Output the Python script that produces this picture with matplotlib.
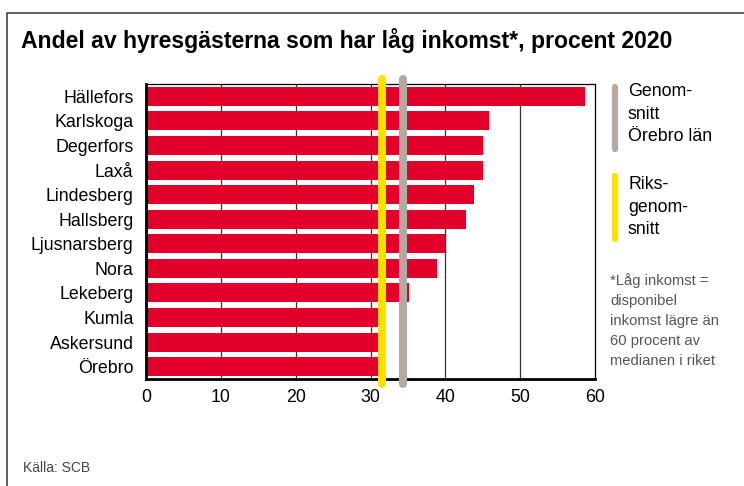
import matplotlib
matplotlib.use("Agg")
from matplotlib import pyplot as plt
from matplotlib.lines import Line2D

plt.rcParams['font.family'] = ['Liberation Sans', 'DejaVu Sans']

# data
kommuner = ["Hällefors", "Karlskoga", "Degerfors", "Laxå", "Lindesberg", "Hallsberg",
            "Ljusnarsberg", "Nora", "Lekeberg", "Kumla", "Askersund", "Örebro"]
andel = [58.7, 45.9, 45.1, 45.0, 43.8, 42.7, 40.0, 38.9, 35.1, 31.1, 31.1, 31.0]
snitt_lan = 34.4
snitt_riket = 31.6
xticks = [0, 10, 20, 30, 40, 50, 60]

RED = "#E2002B"
YELLOW = "#FFE000"
GRAY = "#B5AAA2"

W, H = 744, 486
fig = plt.figure(figsize=(W / 100, H / 100), dpi=100)

def fx(px):
    return px / W

def fy(py):
    return 1 - py / H

# outer frame: only left and top edges are visible
fig.add_artist(Line2D([fx(7), fx(7), fx(744)], [fy(490), fy(13), fy(13)], color="#333333",
                      linewidth=1.1, transform=fig.transFigure))

fig.text(fx(21), fy(48), "Andel av hyresgästerna som har låg inkomst*, procent 2020",
         fontsize=16.6, fontweight="bold", va="baseline", ha="left")

ax = fig.add_axes([fx(146), fy(379), fx(595 - 146), (379 - 84) / H])

ypos = list(range(len(kommuner)))
ax.barh(ypos, andel, height=0.77, color=RED, zorder=2)
ax.set_ylim(len(kommuner) - 0.5, -0.5)
ax.set_xlim(0, 60)
ax.set_xticks(xticks)
ax.set_yticks(ypos)
ax.set_yticklabels(kommuner)
ax.tick_params(axis="y", length=0, labelsize=12.8, pad=9)
ax.tick_params(axis="x", length=0, labelsize=12.8, pad=7)
for v in xticks[1:-1]:
    ax.axvline(v, color="#333333", linewidth=0.9, zorder=1)
for s in ["top", "right"]:
    ax.spines[s].set_linewidth(0.9)
for s in ["left", "bottom"]:
    ax.spines[s].set_linewidth(2)

# average lines, running a bit past the axes
ax.axvline(snitt_riket, ymin=-0.017, ymax=1.017, color=YELLOW, linewidth=5.8,
           solid_capstyle="round", clip_on=False, zorder=3)
ax.axvline(snitt_lan, ymin=-0.017, ymax=1.017, color=GRAY, linewidth=5.8,
           solid_capstyle="round", clip_on=False, zorder=3)

# legend on the right
fig.add_artist(Line2D([fx(615), fx(615)], [fy(87), fy(149)], color=GRAY, linewidth=4.5,
                      solid_capstyle="round", transform=fig.transFigure))
fig.add_artist(Line2D([fx(615), fx(615)], [fy(176), fy(239)], color=YELLOW, linewidth=4.5,
                      solid_capstyle="round", transform=fig.transFigure))
fig.text(fx(628), fy(83), "Genom-\nsnitt\nÖrebro län", fontsize=12.8, va="top", ha="left",
         linespacing=1.44)
fig.text(fx(628), fy(176), "Riks-\ngenom-\nsnitt", fontsize=12.8, va="top", ha="left",
         linespacing=1.44)
fig.text(fx(610), fy(273), "*Låg inkomst =\ndisponibel\ninkomst lägre än\n60 procent av\nmedianen i riket",
         fontsize=10.6, va="top", ha="left", color="#555555", linespacing=1.55)

fig.text(fx(23), fy(468), "Källa: SCB", fontsize=10, va="center", ha="left", color="#444444")

fig.savefig("out.png", dpi=100)
